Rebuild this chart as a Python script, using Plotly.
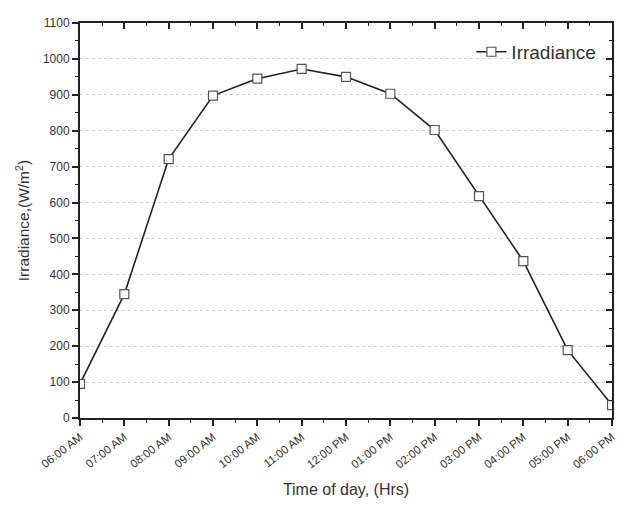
import plotly.graph_objects as go

times = ["06:00 AM", "07:00 AM", "08:00 AM", "09:00 AM", "10:00 AM", "11:00 AM",
         "12:00 PM", "01:00 PM", "02:00 PM", "03:00 PM", "04:00 PM", "05:00 PM", "06:00 PM"]
irradiance = [95, 345, 721, 898, 945, 972, 950, 903, 802, 618, 437, 189, 36]
xpos = list(range(len(times)))
yticks = list(range(0, 1101, 100))

axcol = "#222"
font = dict(family="Liberation Sans, Arial, sans-serif", color="#333")

fig = go.Figure()
fig.add_trace(go.Scatter(
    x=xpos, y=irradiance, mode="lines+markers", name="Irradiance",
    line=dict(color="#222", width=1.6),
    marker=dict(symbol="square", size=9, color="white", line=dict(color="#555", width=1.2)),
))

fig.update_layout(
    width=619, height=509,
    margin=dict(l=80, r=7, t=23, b=91),
    paper_bgcolor="white", plot_bgcolor="white",
    font=font,
    showlegend=True,
    legend=dict(x=0.98, y=0.975, xanchor="right", yanchor="top",
                font=dict(size=19, color="#333"), bgcolor="rgba(0,0,0,0)"),
    xaxis=dict(
        range=[0, 12], tickvals=xpos, ticktext=times, tickangle=-38,
        tickfont=dict(size=11.5, color="#333"), ticklabeloverflow="allow", automargin=False,
        showline=True, linecolor=axcol, linewidth=2,
        ticks="outside", ticklen=6, tickwidth=1.5, tickcolor=axcol,
        minor=dict(ticks="outside", ticklen=3, dtick=0.5, tickwidth=1.2, tickcolor=axcol),
        showgrid=False, zeroline=False,
        title=dict(text="Time of day, (Hrs)", font=dict(size=16, color="#333"), standoff=14),
    ),
    yaxis=dict(
        range=[0, 1100], tickvals=yticks, tickfont=dict(size=12, color="#333"), automargin=False,
        showline=True, linecolor=axcol, linewidth=2,
        ticks="outside", ticklen=6, tickwidth=1.5, tickcolor=axcol,
        minor=dict(ticks="outside", ticklen=3, dtick=50, tickwidth=1.2, tickcolor=axcol, showgrid=False),
        showgrid=True, gridcolor="#cfcfcf", griddash="dot", gridwidth=1.2,
        zeroline=False,
        title=dict(text="Irradiance,(W/m<sup>2</sup>)", font=dict(size=15.5, color="#333"), standoff=9),
    ),
    xaxis2=dict(
        overlaying="x", side="top", range=[0, 12], tickvals=xpos, showticklabels=False,
        showline=True, linecolor=axcol, linewidth=2, automargin=False,
        ticks="inside", ticklen=6, tickwidth=1.5, tickcolor=axcol,
        minor=dict(ticks="inside", ticklen=3, dtick=0.5, tickwidth=1.2, tickcolor=axcol),
        showgrid=False, zeroline=False,
    ),
    yaxis2=dict(
        overlaying="y", side="right", range=[0, 1100], tickvals=yticks, showticklabels=False,
        showline=True, linecolor=axcol, linewidth=2, automargin=False,
        ticks="inside", ticklen=6, tickwidth=1.5, tickcolor=axcol,
        minor=dict(ticks="inside", ticklen=3, dtick=50, tickwidth=1.2, tickcolor=axcol),
        showgrid=False, zeroline=False,
    ),
)
# invisible trace to activate the mirrored top/right axes
fig.add_trace(go.Scatter(x=[None], y=[None], xaxis="x2", yaxis="y2", showlegend=False, hoverinfo="skip"))

fig.write_html("out.html")
